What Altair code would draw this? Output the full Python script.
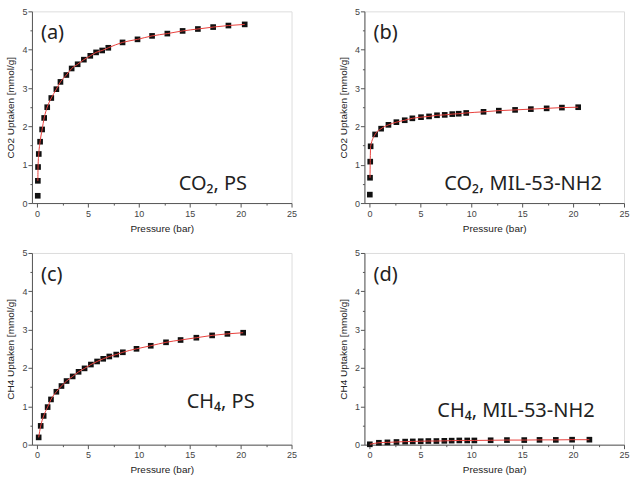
import altair as alt
import pandas as pd

# ---------------- data ----------------
a_p = [0.07, 0.08, 0.10, 0.17, 0.30, 0.50, 0.70, 1.00, 1.40, 1.90, 2.30, 2.88, 3.40, 3.99, 4.60,
       5.23, 5.80, 6.40, 7.00, 8.40, 9.87, 11.3, 12.8, 14.3, 15.8, 17.3, 18.8, 20.4]
a_q = [0.19, 0.58, 0.94, 1.28, 1.60, 1.92, 2.22, 2.50, 2.74, 2.97, 3.16, 3.34, 3.51, 3.62, 3.74,
       3.84, 3.93, 3.98, 4.05, 4.19, 4.27, 4.36, 4.42, 4.49, 4.54, 4.59, 4.63, 4.66]

b_p = [0.03, 0.05, 0.07, 0.11, 0.55, 1.14, 1.86, 2.64, 3.46, 4.21, 5.06, 5.85, 6.63, 7.39, 8.13,
       8.76, 9.50, 11.2, 12.7, 14.3, 15.85, 17.4, 18.9, 20.5]
b_q = [0.22, 0.66, 1.08, 1.48, 1.79, 1.94, 2.04, 2.11, 2.16, 2.21, 2.24, 2.26, 2.29, 2.30, 2.32,
       2.33, 2.35, 2.38, 2.41, 2.43, 2.45, 2.47, 2.49, 2.50]

c_p = [0.16, 0.36, 0.65, 1.04, 1.37, 1.90, 2.40, 2.90, 3.50, 4.08, 4.67, 5.29, 5.90, 6.50, 7.10,
       7.78, 8.43, 9.77, 11.17, 12.67, 14.1, 15.65, 17.2, 18.7, 20.25]
c_q = [0.19, 0.49, 0.75, 0.98, 1.18, 1.38, 1.53, 1.66, 1.78, 1.90, 1.99, 2.09, 2.17, 2.24, 2.30,
       2.35, 2.41, 2.50, 2.58, 2.67, 2.73, 2.79, 2.85, 2.89, 2.92]

d_p = [0.03, 0.92, 1.76, 2.65, 3.50, 4.25, 5.03, 5.78, 6.57, 7.35, 8.07, 8.82, 9.60, 10.3,
       11.9, 13.5, 15.2, 16.7, 18.3, 19.9, 21.6]
d_q = [0.01, 0.05, 0.06, 0.07, 0.08, 0.085, 0.09, 0.095, 0.095, 0.10, 0.105, 0.11, 0.11, 0.11,
       0.115, 0.12, 0.12, 0.125, 0.125, 0.13, 0.13]

letters = ["(a)", "(b)", "(c)", "(d)"]
names = ["CO₂, PS", "CO₂, MIL-53-NH2", "CH₄, PS", "CH₄, MIL-53-NH2"]
y_titles = ["CO2 Uptaken [mmol/g]", "CO2 Uptaken [mmol/g]",
            "CH4 Uptaken [mmol/g]", "CH4 Uptaken [mmol/g]"]
x_title = "Pressure (bar)"
x_ticks = [0, 2.5, 5, 7.5, 10, 12.5, 15, 17.5, 20, 22.5, 25]
y_ticks = [0, 0.5, 1, 1.5, 2, 2.5, 3, 3.5, 4, 4.5, 5]

# fit line skips first point in (a),(b)
line_start = [1, 1, 0, 0]
# label placement inside each plot (pixels): (x, baseline y)
name_pos = [(147, 179), (80, 179), (155, 155), (73, 164)]

W, H = 260, 192
AX = "#555555"


def panel(i, p, q):
    df = pd.DataFrame({"p": p, "q": q})
    ldf = df.iloc[line_start[i]:]
    xs = alt.Scale(domain=[-0.5, 25], nice=False, zero=False)
    ys = alt.Scale(domain=[0, 5], nice=False)
    xa = alt.Axis(values=x_ticks, grid=False, labelOverlap=False, labelFlush=False,
                  labelExpr="datum.value % 5 === 0 ? format(datum.value, 'd') : ''",
                  tickSize={"condition": {"test": "datum.value % 5 === 0", "value": 4}, "value": 2},
                  title=x_title, titleFontSize=10, titleFontWeight="normal", labelFontSize=9,
                  labelPadding=2, titlePadding=5, domainColor=AX, tickColor=AX,
                  labelColor="#444444", titleColor="#222222",
                  labelFont="Liberation Sans", titleFont="Liberation Sans")
    ya = alt.Axis(values=y_ticks, grid=False, labelOverlap=False, labelFlush=False,
                  labelExpr="datum.value % 1 === 0 ? format(datum.value, 'd') : ''",
                  tickSize={"condition": {"test": "datum.value % 1 === 0", "value": 4}, "value": 2},
                  title=y_titles[i], titleFontSize=10, titleFontWeight="normal", labelFontSize=9,
                  labelPadding=1, titlePadding=6, domainColor=AX, tickColor=AX,
                  labelColor="#444444", titleColor="#222222",
                  labelFont="Liberation Sans", titleFont="Liberation Sans")
    pts = alt.Chart(df).mark_square(size=32, color="#111111", opacity=1).encode(
        x=alt.X("p:Q", scale=xs, axis=xa),
        y=alt.Y("q:Q", scale=ys, axis=ya),
    )
    line = alt.Chart(ldf).mark_line(color="#e8403c", strokeWidth=1, interpolate="monotone").encode(
        x=alt.X("p:Q", scale=xs, axis=xa), y=alt.Y("q:Q", scale=ys, axis=ya)
    )
    lab = alt.Chart(pd.DataFrame({"t": [letters[i]]})).mark_text(
        align="left", baseline="alphabetic", fontSize=20, font="Noto Sans", color="#222222"
    ).encode(text="t:N", x=alt.value(9), y=alt.value(28))
    nm = alt.Chart(pd.DataFrame({"t": [names[i]]})).mark_text(
        align="left", baseline="alphabetic", fontSize=20, font="Noto Sans", color="#222222"
    ).encode(text="t:N", x=alt.value(name_pos[i][0]), y=alt.value(name_pos[i][1]))
    return alt.layer(pts, line, lab, nm).properties(width=W, height=H)


chart = alt.concat(
    panel(0, a_p, a_q), panel(1, b_p, b_q), panel(2, c_p, c_q), panel(3, d_p, d_q),
    columns=2, spacing={"row": 50, "column": 73}, bounds="flush",
).properties(
    padding={"left": 5, "top": 6, "right": 0, "bottom": 0}
).configure_view(stroke=AX, strokeWidth=1).configure(background="white")

chart.save("out.html", embed_options={"renderer": "svg", "actions": False})
